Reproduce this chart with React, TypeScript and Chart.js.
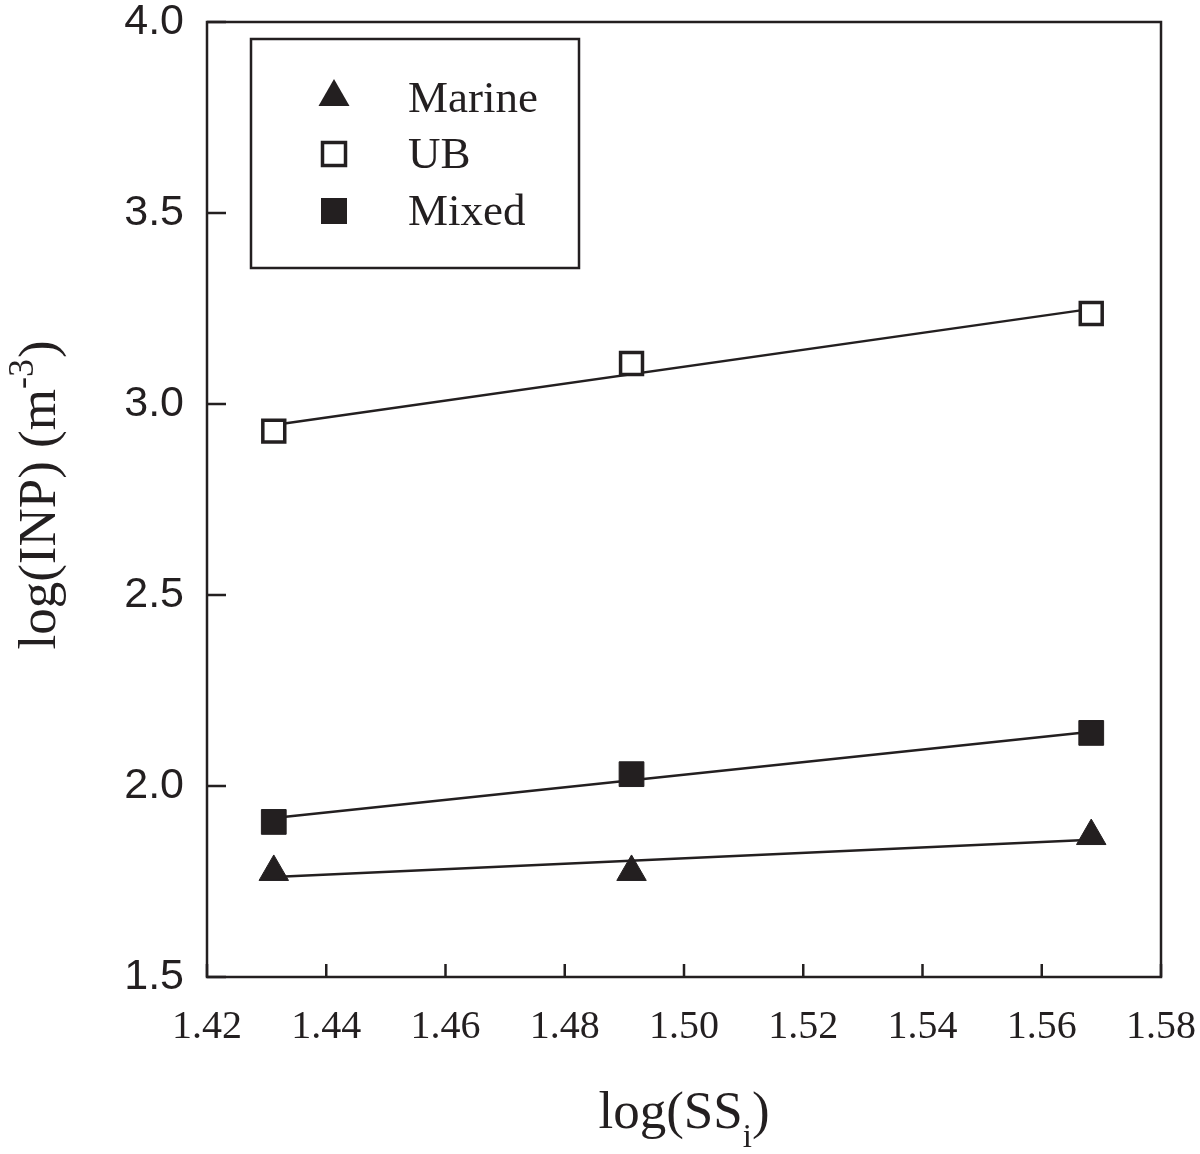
import React, { useEffect, useRef } from 'react';
import { Chart, registerables } from 'chart.js';

Chart.register(...registerables);

// ---- data ----
const xValues = [1.4312, 1.4912, 1.5683];
const marineValues = [1.775, 1.775, 1.869];
const ubValues = [2.929, 3.106, 3.237];
const mixedValues = [1.906, 2.031, 2.139];

const fitX = [1.4312, 1.5683];
const marineFit = [1.762, 1.859];
const ubFit = [2.945, 3.249];
const mixedFit = [1.916, 2.142];

const xTicks = [1.42, 1.44, 1.46, 1.48, 1.5, 1.52, 1.54, 1.56, 1.58];
const yTicks = [1.5, 2.0, 2.5, 3.0, 3.5, 4.0];
const legendLabels = ['Marine', 'UB', 'Mixed'];

const INK = '#231f20';
const SERIF = '"Liberation Serif", "Times New Roman", serif';
const SANS = '"Liberation Sans", Arial, sans-serif';

const pts = (xs: number[], ys: number[]) => xs.map((x, i) => ({ x, y: ys[i] }));

const decorPlugin = {
  id: 'decor',
  afterDraw(chart: any) {
    const { ctx, chartArea: a, scales } = chart;
    ctx.save();
    ctx.strokeStyle = INK;
    ctx.fillStyle = INK;
    ctx.lineWidth = 2.5;
    ctx.strokeRect(a.left, a.top, a.right - a.left, a.bottom - a.top);

    // inward tick marks
    ctx.beginPath();
    for (const v of xTicks) {
      const px = scales.x.getPixelForValue(v);
      ctx.moveTo(px, a.bottom);
      ctx.lineTo(px, a.bottom - 13);
    }
    for (const v of yTicks) {
      const py = scales.y.getPixelForValue(v);
      ctx.moveTo(a.left, py);
      ctx.lineTo(a.left + 19, py);
    }
    ctx.stroke();

    // legend
    const lx = a.left + 44;
    const ly = a.top + 17;
    ctx.lineWidth = 2.5;
    ctx.strokeRect(lx, ly, 328, 229);
    const mx = lx + 83;
    const rows = [ly + 54, ly + 115, ly + 172];
    const baselines = [ly + 73, ly + 129, ly + 186];
    // triangle
    ctx.beginPath();
    ctx.moveTo(mx, rows[0] - 14);
    ctx.lineTo(mx + 15.5, rows[0] + 13);
    ctx.lineTo(mx - 15.5, rows[0] + 13);
    ctx.closePath();
    ctx.fill();
    // open square
    ctx.fillStyle = '#ffffff';
    ctx.fillRect(mx - 11.5, rows[1] - 11.5, 23, 23);
    ctx.lineWidth = 3.5;
    ctx.strokeRect(mx - 11.5, rows[1] - 11.5, 23, 23);
    // filled square
    ctx.fillStyle = INK;
    ctx.fillRect(mx - 13, rows[2] - 13, 26, 26);
    ctx.font = `45px ${SERIF}`;
    ctx.textBaseline = 'alphabetic';
    ctx.textAlign = 'left';
    legendLabels.forEach((t, i) => ctx.fillText(t, lx + 157, baselines[i]));

    // x title: log(SS_i)
    const big = `53px ${SERIF}`;
    const small = `33px ${SERIF}`;
    ctx.font = big;
    const w1 = ctx.measureText('log(SS').width;
    const w3 = ctx.measureText(')').width;
    ctx.font = small;
    const w2 = ctx.measureText('i').width;
    const cx = (a.left + a.right) / 2;
    const sx = cx - (w1 + w2 + w3) / 2;
    const by = 1128;
    ctx.font = big;
    ctx.fillText('log(SS', sx, by);
    ctx.font = small;
    ctx.fillText('i', sx + w1, by + 19);
    ctx.font = big;
    ctx.fillText(')', sx + w1 + w2, by);

    // y title: log(INP) (m^-3)
    ctx.save();
    const cy = (a.top + a.bottom) / 2 - 4;
    ctx.translate(55, cy);
    ctx.rotate(-Math.PI / 2);
    ctx.font = big;
    const t1 = 'log(INP) (m';
    const u1 = ctx.measureText(t1).width;
    const u3 = ctx.measureText(')').width;
    ctx.font = `36px ${SERIF}`;
    const u2 = ctx.measureText('-3').width;
    const tx = -(u1 + u2 + u3) / 2;
    ctx.font = big;
    ctx.fillText(t1, tx, 0);
    ctx.font = `36px ${SERIF}`;
    ctx.fillText('-3', tx + u1, -22);
    ctx.font = big;
    ctx.fillText(')', tx + u1 + u2 + 1, 0);
    ctx.restore();

    ctx.restore();
  },
};

export default function App() {
  const ref = useRef<HTMLCanvasElement | null>(null);

  useEffect(() => {
    if (!ref.current) return;
    const lineDs = (label: string, ys: number[]) => ({
      type: 'line' as const,
      label,
      data: pts(fitX, ys),
      showLine: true,
      borderColor: INK,
      borderWidth: 2.5,
      pointRadius: 0,
      fill: false,
      order: 2,
    });
    const chart = new Chart(ref.current, {
      type: 'scatter',
      data: {
        datasets: [
          {
            label: 'Marine',
            data: pts(xValues, marineValues),
            pointStyle: 'triangle',
            pointRadius: 17,
            backgroundColor: INK,
            borderColor: INK,
            borderWidth: 1,
            order: 1,
          },
          {
            label: 'UB',
            data: pts(xValues, ubValues),
            pointStyle: 'rect',
            pointRadius: 15.5,
            backgroundColor: '#ffffff',
            borderColor: INK,
            borderWidth: 3.5,
            order: 1,
          },
          {
            label: 'Mixed',
            data: pts(xValues, mixedValues),
            pointStyle: 'rect',
            pointRadius: 17.5,
            backgroundColor: INK,
            borderColor: INK,
            borderWidth: 1,
            order: 1,
          },
          lineDs('Marine fit', marineFit),
          lineDs('UB fit', ubFit),
          lineDs('Mixed fit', mixedFit),
        ] as any,
      },
      options: {
        animation: false,
        responsive: false,
        devicePixelRatio: 1,
        layout: { padding: { left: 0, right: 39, top: 22, bottom: 0 } },
        plugins: {
          legend: { display: false },
          tooltip: { enabled: false },
          title: { display: false },
        },
        scales: {
          x: {
            type: 'linear',
            min: 1.42,
            max: 1.58,
            afterBuildTicks: (s: any) => {
              s.ticks = xTicks.map((v) => ({ value: v }));
            },
            afterFit: (s: any) => {
              s.height = 177;
              s.paddingLeft = 0;
              s.paddingRight = 0;
            },
            ticks: {
              callback: (v: any) => Number(v).toFixed(2),
              font: { family: SERIF, size: 40, lineHeight: 1 },
              color: INK,
              padding: 30,
              maxRotation: 0,
              autoSkip: false,
            },
            grid: { display: false, drawTicks: false },
            border: { display: false },
          },
          y: {
            type: 'linear',
            min: 1.5,
            max: 4.0,
            afterBuildTicks: (s: any) => {
              s.ticks = yTicks.map((v) => ({ value: v }));
            },
            afterFit: (s: any) => {
              s.width = 207;
              s.paddingTop = 0;
              s.paddingBottom = 0;
            },
            ticks: {
              callback: (v: any) => Number(v).toFixed(1),
              font: { family: SANS, size: 43, lineHeight: 1 },
              color: INK,
              padding: 23,
              autoSkip: false,
            },
            grid: { display: false, drawTicks: false },
            border: { display: false },
          },
        },
      },
      plugins: [decorPlugin],
    });
    return () => chart.destroy();
  }, []);

  return (
    <div style={{ position: 'absolute', left: 0, top: 0, width: 1200, height: 1154, background: '#fff' }}>
      <canvas ref={ref} width={1200} height={1154} style={{ display: 'block', width: 1200, height: 1154 }} />
    </div>
  );
}
